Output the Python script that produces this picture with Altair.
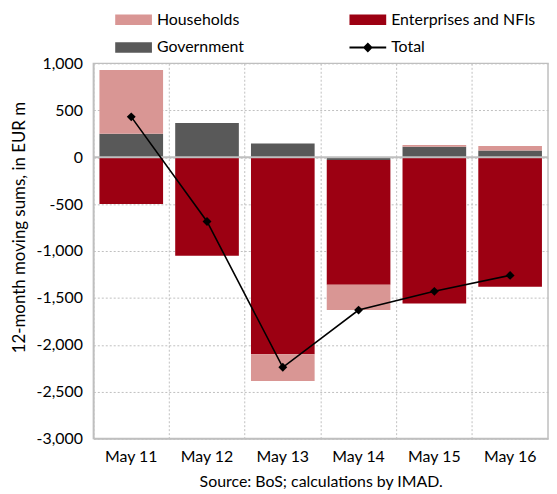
import altair as alt
import pandas as pd

periods = ["May 11", "May 12", "May 13", "May 14", "May 15", "May 16"]
households = [680, 0, -285, -270, 20, 50]
enterprises = [-500, -1050, -2100, -1330, -1560, -1380]
government = [250, 365, 145, -30, 110, 70]
total = [430, -685, -2240, -1630, -1430, -1260]

series = ["Households", "Enterprises and NFIs", "Government", "Total"]
colors = ["#D99694", "#9C0012", "#595959", "#000000"]
y_ticks = [-3000, -2500, -2000, -1500, -1000, -500, 0, 500, 1000]
source_text = "Source: BoS; calculations by IMAD."
y_title = "12-month moving sums, in EUR m"

FONT = "Lato"
FS = 16
GRID = "#BFBFBF"

rows = []
for i, p in enumerate(periods):
    rows.append({"period": p, "series": "Government", "value": government[i], "ord": 0})
    rows.append({"period": p, "series": "Enterprises and NFIs", "value": enterprises[i], "ord": 1})
    rows.append({"period": p, "series": "Households", "value": households[i], "ord": 2})
bar_df = pd.DataFrame(rows)
tot_df = pd.DataFrame({"period": periods, "value": total})
zero_df = pd.DataFrame({"value": [0]})
leg_df = pd.DataFrame({"series": series})

# legend symbols (unit = 10px): wide rectangle, and line with diamond
rect = "M-1.85,-0.525H1.85V0.525H-1.85Z"
line_diamond = "M-1.85,-0.1H1.85V0.1H-1.85Z M0,-0.5L0.5,0L0,0.5L-0.5,0Z"
shapes = [rect, rect, rect, line_diamond]

x_enc = alt.X(
    "period:N", sort=periods,
    scale=alt.Scale(domain=periods, paddingInner=0, paddingOuter=0),
    axis=alt.Axis(
        title=source_text, titleFont=FONT, titleFontSize=FS, titleFontWeight="normal",
        titleColor="#000000", titlePadding=9,
        labelFont=FONT, labelFontSize=FS, labelColor="#000000", labelPadding=10,
        labelAngle=0, ticks=False, domainColor=GRID, domainWidth=1.5,
        grid=True, gridDash=[2, 2], gridColor=GRID, bandPosition=0,
    ),
)
y_enc = alt.Y(
    "value:Q", stack="zero",
    scale=alt.Scale(domain=[-3000, 1000], nice=False),
    axis=alt.Axis(
        title=y_title, titleFont=FONT, titleFontSize=17, titleFontWeight="normal",
        titleColor="#000000", titlePadding=8, titleY=165,
        values=y_ticks, labelExpr="replace(format(datum.value, ','), '\u2212', '-')",
        labelFont=FONT, labelFontSize=FS, labelColor="#000000", labelPadding=11,
        ticks=False, domainColor=GRID, domainWidth=1.5,
        grid=True, gridDash=[2, 2], gridColor=GRID,
    ),
)

color_scale = alt.Scale(domain=series, range=colors)
leg = alt.Legend(
    title=None, orient="none", direction="horizontal", legendX=30.5, legendY=-54,
    columns=2, columnPadding=105, rowPadding=10, symbolSize=400, symbolStrokeWidth=0,
    labelFont=FONT, labelFontSize=FS, labelColor="#000000", labelOffset=13.5,
    symbolOpacity=1,
)

dummy = alt.Chart(leg_df).mark_point(filled=True, opacity=1).encode(
    color=alt.Color("series:N", scale=color_scale, legend=leg),
    shape=alt.Shape("series:N", scale=alt.Scale(domain=series, range=shapes), legend=leg),
).transform_filter("datum.series == 'none'")

bars = alt.Chart(bar_df).mark_bar(width=alt.RelativeBandSize(0.84)).encode(
    x=x_enc,
    y=y_enc,
    color=alt.Color("series:N", scale=color_scale, legend=leg),
    order=alt.Order("ord:Q"),
)

zero = alt.Chart(zero_df).mark_rule(color=GRID, strokeWidth=2).encode(y="value:Q")

line = alt.Chart(tot_df).mark_line(color="#000000", strokeWidth=1.6).encode(
    x=alt.X("period:N", sort=periods), y="value:Q"
)
pts = alt.Chart(tot_df).mark_point(shape="diamond", filled=True, size=80, color="#000000", opacity=1).encode(
    x=alt.X("period:N", sort=periods), y="value:Q"
)

chart = alt.layer(dummy, bars, zero, line, pts).properties(
    width=458, height=378, padding={"left": 2, "top": 0, "right": 0, "bottom": 0}
).configure_view(stroke=GRID, strokeWidth=1.5)

chart.save("out.html", embed_options={"renderer": "svg", "actions": False})
